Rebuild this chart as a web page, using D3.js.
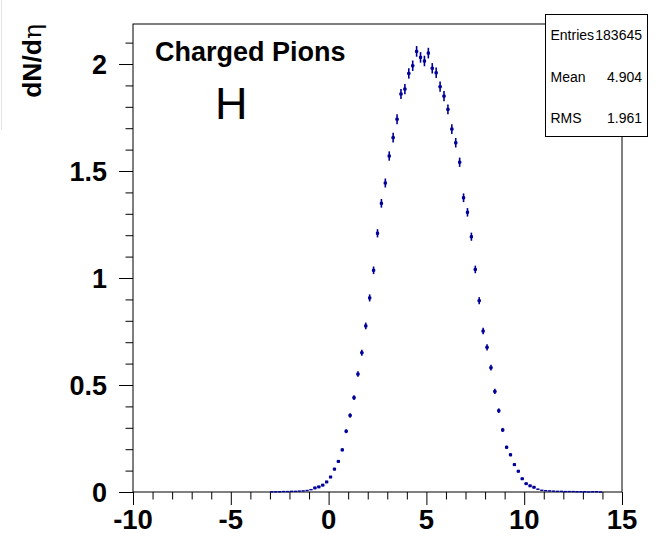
<!DOCTYPE html>
<html>
<head>
<meta charset="utf-8">
<script src="https://cdn.jsdelivr.net/npm/d3@7"></script>
<style>
  html, body { margin: 0; padding: 0; background: #fff; }
  svg { display: block; font-family: "Liberation Sans", Arial, Helvetica, sans-serif; }
</style>
</head>
<body>
<div id="chart"></div>
<script>
// binning of the histogram: width 0.2, first filled bin starts at -3.0
const binWidth = 0.2;
const firstEdge = -3.0;

// dN/deta per bin (bins -3.0 .. 14.0)
const dndeta = [
  0.0005, 0.001, 0.001, 0.002, 0.002, 0.003, 0.003, 0.004, 0.005, 0.007,
  0.011, 0.019, 0.024, 0.032, 0.047,
  0.070, 0.107, 0.143, 0.197, 0.284, 0.358, 0.441, 0.551, 0.651, 0.776,
  0.907, 1.036, 1.209, 1.349, 1.444, 1.570, 1.656, 1.742, 1.860, 1.883,
  1.956, 1.992, 2.059, 2.031, 2.014,
  2.051, 1.980, 1.959, 1.894, 1.850, 1.788, 1.696, 1.632, 1.541, 1.375,
  1.307, 1.193, 1.040, 0.894, 0.752, 0.676, 0.581, 0.470, 0.380, 0.290,
  0.209, 0.174, 0.128, 0.097, 0.062,
  0.039, 0.029, 0.022, 0.013, 0.008, 0.006, 0.005, 0.004, 0.003, 0.003,
  0.002, 0.002, 0.002, 0.001, 0.001, 0.001, 0, 0.001, 0.001, 0
];

// error bar half-lengths per bin
const dndetaErr = [
  0.0004, 0.0005, 0.0005, 0.0008, 0.0008, 0.0009, 0.0009, 0.001, 0.0012, 0.0014,
  0.0018, 0.0023, 0.0026, 0.003, 0.0037,
  0.0045, 0.0056, 0.0064, 0.0075, 0.009, 0.0105, 0.0116, 0.013, 0.014, 0.0155,
  0.0166, 0.0178, 0.0192, 0.0202, 0.021, 0.0218, 0.0224, 0.023, 0.0237, 0.0238,
  0.0243, 0.0245, 0.025, 0.0248, 0.0246,
  0.0248, 0.0244, 0.0243, 0.024, 0.0236, 0.0232, 0.0226, 0.0222, 0.0216, 0.0204,
  0.0199, 0.0191, 0.0178, 0.0165, 0.0151, 0.0144, 0.0133, 0.012, 0.0108, 0.0094,
  0.0079, 0.0072, 0.0062, 0.0054, 0.0042,
  0.0034, 0.0029, 0.0025, 0.0019, 0.0015, 0.0013, 0.0012, 0.0011, 0.0009, 0.0009,
  0.0008, 0.0008, 0.0008, 0.0005, 0.0005, 0.0005, 0, 0.0005, 0.0005, 0
];

const xTicks = [-10, -5, 0, 5, 10, 15];
const yTicks = [0, 0.5, 1, 1.5, 2];

const statNames = ['Entries', 'Mean', 'RMS'];
const statValues = ['183645', '4.904', '1.961'];

const W = 665, H = 547;
const frame = { left: 133, right: 622, top: 24, bottom: 492 };
const markerColor = '#000099';

const svg = d3.select('#chart').append('svg')
  .attr('width', W)
  .attr('height', H);

const x = d3.scaleLinear().domain([-10, 15]).range([frame.left, frame.right]);
const y = d3.scaleLinear().domain([0, 2.187]).range([frame.bottom, frame.top]);

// faint border left over from the canvas
svg.append('line')
  .attr('x1', 1.5).attr('x2', 1.5).attr('y1', 0).attr('y2', 130)
  .attr('stroke', '#e4e4e4');

// frame box
svg.append('rect')
  .attr('x', frame.left).attr('y', frame.top)
  .attr('width', frame.right - frame.left)
  .attr('height', frame.bottom - frame.top)
  .attr('fill', 'none')
  .attr('stroke', '#000')
  .attr('stroke-width', 1);

// x axis, ticks pointing out of the frame
const xAxis = d3.axisBottom(x)
  .tickValues(d3.range(-10, 15.01, 1))
  .tickSize(7.5)
  .tickFormat('');
const gx = svg.append('g')
  .attr('transform', `translate(0,${frame.bottom})`)
  .call(xAxis);
gx.select('.domain').remove();
gx.selectAll('.tick line')
  .filter(d => xTicks.includes(Math.round(d)) && Math.abs(d - Math.round(d)) < 1e-6)
  .attr('y2', 13);

svg.append('g')
  .selectAll('text')
  .data(xTicks)
  .join('text')
  .attr('x', d => x(d))
  .attr('y', 529)
  .attr('text-anchor', 'middle')
  .attr('font-size', 27.5)
  .attr('font-weight', 'bold')
  .text(d => d);

// y axis
const yAxis = d3.axisLeft(y)
  .tickValues(d3.range(0, 2.15, 0.1))
  .tickSize(7.5)
  .tickFormat('');
const gy = svg.append('g')
  .attr('transform', `translate(${frame.left},0)`)
  .call(yAxis);
gy.select('.domain').remove();
gy.selectAll('.tick line')
  .filter(d => Math.abs(d * 2 - Math.round(d * 2)) < 1e-6)
  .attr('x2', -14);

svg.append('g')
  .selectAll('text')
  .data(yTicks)
  .join('text')
  .attr('x', 107)
  .attr('y', d => y(d) + 9.5)
  .attr('text-anchor', 'end')
  .attr('font-size', 27)
  .attr('font-weight', 'bold')
  .text(d => d);

// y title, eta in a plain (symbol-like) weight
const yTitle = svg.append('text')
  .attr('transform', 'translate(41,24) rotate(-90)')
  .attr('text-anchor', 'end')
  .attr('font-size', 26.5)
  .attr('font-weight', 'bold');
yTitle.append('tspan').text('dN/d');
yTitle.append('tspan')
  .attr('font-weight', 'normal')
  .attr('font-family', '"DejaVu Serif", serif')
  .attr('font-size', 25)
  .text('η');

// histogram points with error bars
const bins = dndeta.map((v, i) => ({
  lo: firstEdge + i * binWidth,
  hi: firstEdge + (i + 1) * binWidth,
  c: firstEdge + (i + 0.5) * binWidth,
  v: v,
  e: dndetaErr[i]
}));

const pts = svg.append('g').attr('stroke', markerColor);

pts.selectAll('line.h')
  .data(bins)
  .join('line')
  .attr('class', 'h')
  .attr('x1', d => x(d.lo) + 0.3)
  .attr('x2', d => x(d.hi) - 0.3)
  .attr('y1', d => y(d.v))
  .attr('y2', d => y(d.v))
  .attr('stroke-width', 1.4);

pts.selectAll('line.v')
  .data(bins.filter(d => d.e > 0))
  .join('line')
  .attr('class', 'v')
  .attr('x1', d => x(d.c))
  .attr('x2', d => x(d.c))
  .attr('y1', d => y(d.v + d.e))
  .attr('y2', d => y(d.v - d.e))
  .attr('stroke-width', 1.6);

pts.selectAll('rect')
  .data(bins.filter(d => d.v > 0.015))
  .join('rect')
  .attr('x', d => x(d.c) - 1.5)
  .attr('y', d => y(d.v) - 1.5)
  .attr('width', 3)
  .attr('height', 3)
  .attr('fill', markerColor)
  .attr('stroke', 'none');

// title texts
svg.append('text')
  .attr('x', 155)
  .attr('y', 61)
  .attr('font-size', 27)
  .attr('font-weight', 'bold')
  .text('Charged Pions');

svg.append('text')
  .attr('x', 215)
  .attr('y', 118.5)
  .attr('font-size', 45)
  .text('H');

// stats box
const stats = svg.append('g');
stats.append('rect')
  .attr('x', 545.5).attr('y', 14.5)
  .attr('width', 102).attr('height', 122)
  .attr('fill', '#fff')
  .attr('stroke', '#000');

stats.selectAll('text.name')
  .data(statNames)
  .join('text')
  .attr('class', 'name')
  .attr('x', 550.5)
  .attr('y', (d, i) => 40 + i * 41.5)
  .attr('font-size', 14)
  .text(d => d);

stats.selectAll('text.val')
  .data(statValues)
  .join('text')
  .attr('class', 'val')
  .attr('x', 642)
  .attr('y', (d, i) => 40 + i * 41.5)
  .attr('text-anchor', 'end')
  .attr('font-size', 14)
  .text(d => d);
</script>
</body>
</html>
